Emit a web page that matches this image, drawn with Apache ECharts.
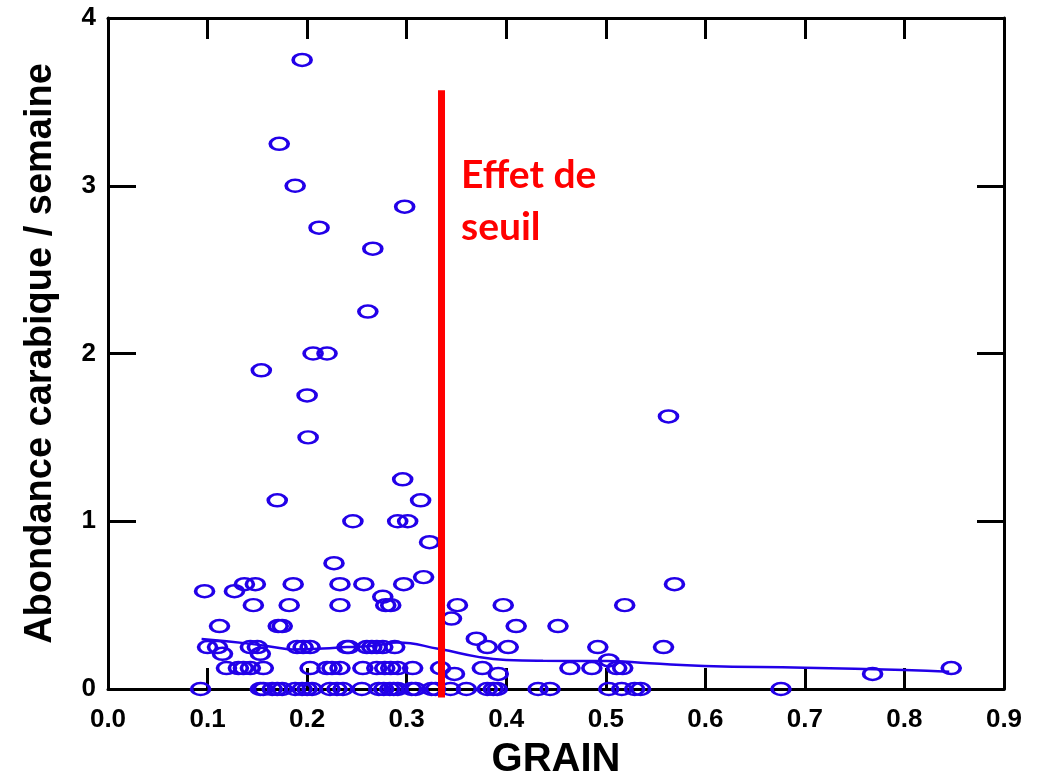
<!DOCTYPE html>
<html>
<head>
<meta charset="utf-8">
<script src="https://cdn.jsdelivr.net/npm/echarts@6/dist/echarts.min.js"></script>
<style>
  html, body { margin: 0; padding: 0; background: #fff; }
  #chart { width: 1042px; height: 774px; }
</style>
</head>
<body>
<div id="chart"></div>
<script>
// nuage de points GRAIN / abondance
var grainValues = [
  0.093, 0.153, 0.156, 0.165, 0.170, 0.175, 0.188, 0.195, 0.200, 0.205, 0.223, 0.230, 0.236, 0.255,
  0.272, 0.277, 0.283, 0.287, 0.291, 0.305, 0.309, 0.325, 0.329, 0.344, 0.360, 0.381, 0.387, 0.391,
  0.432, 0.444, 0.503, 0.516, 0.529, 0.535, 0.676,
  0.348, 0.392, 0.768,
  0.119, 0.131, 0.136, 0.143, 0.156, 0.203, 0.220, 0.225, 0.233, 0.256, 0.270, 0.278, 0.284, 0.291,
  0.306, 0.334, 0.376, 0.464, 0.486, 0.511, 0.517, 0.847,
  0.503, 0.115, 0.153,
  0.100, 0.110, 0.143, 0.150, 0.190, 0.196, 0.203, 0.240, 0.242, 0.260, 0.265, 0.270, 0.276, 0.288,
  0.381, 0.402, 0.492, 0.558,
  0.370, 0.112, 0.171, 0.175, 0.410, 0.452, 0.345,
  0.146, 0.182, 0.233, 0.279, 0.284, 0.351, 0.397, 0.519, 0.276,
  0.097, 0.127, 0.137, 0.148, 0.186, 0.233, 0.257, 0.297, 0.569,
  0.317, 0.227, 0.323, 0.246, 0.291, 0.301, 0.170, 0.314, 0.296, 0.201, 0.563, 0.200, 0.154,
  0.206, 0.220, 0.261, 0.266, 0.212, 0.298, 0.188, 0.172, 0.195
];
var abondanceValues = [
  0, 0, 0, 0, 0, 0, 0, 0, 0, 0, 0, 0, 0, 0,
  0, 0, 0, 0, 0, 0, 0, 0, 0, 0, 0, 0, 0, 0,
  0, 0, 0, 0, 0, 0, 0,
  0.09, 0.09, 0.09,
  0.125, 0.125, 0.125, 0.125, 0.125, 0.125, 0.125, 0.125, 0.125, 0.125, 0.125, 0.125, 0.125, 0.125,
  0.125, 0.125, 0.125, 0.125, 0.125, 0.125, 0.125, 0.125,
  0.17, 0.21, 0.21,
  0.25, 0.25, 0.25, 0.25, 0.25, 0.25, 0.25, 0.25, 0.25, 0.25, 0.25, 0.25, 0.25, 0.25,
  0.25, 0.25, 0.25, 0.25,
  0.30, 0.375, 0.375, 0.375, 0.375, 0.375, 0.42,
  0.5, 0.5, 0.5, 0.5, 0.5, 0.5, 0.5, 0.5, 0.55,
  0.583, 0.583, 0.625, 0.625, 0.625, 0.625, 0.625, 0.625, 0.625,
  0.667, 0.75, 0.875, 1, 1, 1, 1.125, 1.125, 1.25, 1.5, 1.625, 1.75, 1.9,
  2, 2, 2.25, 2.625, 2.75, 2.875, 3, 3.25, 3.75
];

// courbe lissée
var lissageGrain = [0.094, 0.139, 0.169, 0.186, 0.216, 0.240, 0.268, 0.290, 0.333, 0.373, 0.400, 0.437, 0.501, 0.544, 0.599, 0.700, 0.800, 0.845];
var lissageValues = [0.298, 0.272, 0.248, 0.236, 0.242, 0.250, 0.258, 0.277, 0.238, 0.190, 0.173, 0.168, 0.167, 0.153, 0.137, 0.127, 0.113, 0.103];

// seuil
var seuilGrain = [0.335, 0.335];
var seuilValues = [3.57, -0.05];

var bleu = '#2200e8';
var ellipse = 'path://M0,6A9,6,0,1,1,18,6A9,6,0,1,1,0,6Z';

var points = grainValues.map(function (g, i) { return [g, abondanceValues[i]]; });
var lissage = lissageGrain.map(function (g, i) { return [g, lissageValues[i]]; });
var seuil = seuilGrain.map(function (g, i) { return [g, seuilValues[i]]; });

var labelStyle = {
  color: '#000',
  fontFamily: 'Liberation Sans',
  fontWeight: 'bold',
  fontSize: 26
};

function cadre(extra) {
  return Object.assign({
    type: 'value',
    axisLine: { onZero: false, lineStyle: { color: '#000', width: 3 } },
    splitLine: { show: false }
  }, extra);
}

var chart = echarts.init(document.getElementById('chart'), null, { renderer: 'canvas' });
var option = {
  backgroundColor: '#fff',
  animation: false,
  grid: { left: 108, right: 38, top: 18, bottom: 85, containLabel: false, outerBoundsMode: 'none' },
  xAxis: [cadre({
    position: 'bottom',
    min: 0, max: 0.9, interval: 0.1,
    axisTick: { inside: true, length: 21, lineStyle: { color: '#000', width: 3 } },
    axisLabel: Object.assign({ margin: 18, formatter: function (v) { return v.toFixed(1); } }, labelStyle),
    name: 'GRAIN',
    nameLocation: 'middle',
    nameGap: 51,
    nameTextStyle: { color: '#000', fontFamily: 'Liberation Sans', fontWeight: 'bold', fontSize: 40 }
  }), cadre({
    position: 'top',
    min: 0, max: 0.9, interval: 0.1,
    axisTick: { inside: true, length: 21, lineStyle: { color: '#000', width: 3 } },
    axisLabel: { show: false }
  })],
  yAxis: [cadre({
    position: 'left',
    min: 0, max: 4, interval: 1,
    axisTick: { inside: true, length: 28, lineStyle: { color: '#000', width: 3 } },
    axisLabel: Object.assign({ margin: 12 }, labelStyle),
    name: 'Abondance carabique / semaine',
    nameLocation: 'middle',
    nameGap: 48,
    nameTextStyle: { color: '#000', fontFamily: 'Liberation Sans', fontWeight: 'bold', fontSize: 38 }
  }), cadre({
    position: 'right',
    min: 0, max: 4, interval: 1,
    axisTick: { inside: true, length: 27, lineStyle: { color: '#000', width: 3 } },
    axisLabel: { show: false }
  })],
  series: [{
    type: 'scatter',
    data: points,
    symbol: ellipse,
    symbolSize: [18, 12],
    itemStyle: { color: 'transparent', borderColor: bleu, borderWidth: 3, opacity: 1 },
    z: 2
  }, {
    type: 'line',
    data: lissage,
    smooth: true,
    showSymbol: false,
    symbol: 'none',
    lineStyle: { color: bleu, width: 2.5 },
    z: 3
  }, {
    type: 'line',
    data: seuil,
    clip: false,
    showSymbol: false,
    symbol: 'none',
    lineStyle: { color: '#ff0000', width: 7 },
    z: 4
  }],
  graphic: [{
    type: 'text',
    left: 461,
    top: 149,
    style: {
      text: 'Effet de\nseuil',
      fill: '#ff0000',
      font: 'bold 39px Lato',
      lineHeight: 52
    },
    z: 10
  }]
};
chart.setOption(option);
</script>
</body>
</html>
